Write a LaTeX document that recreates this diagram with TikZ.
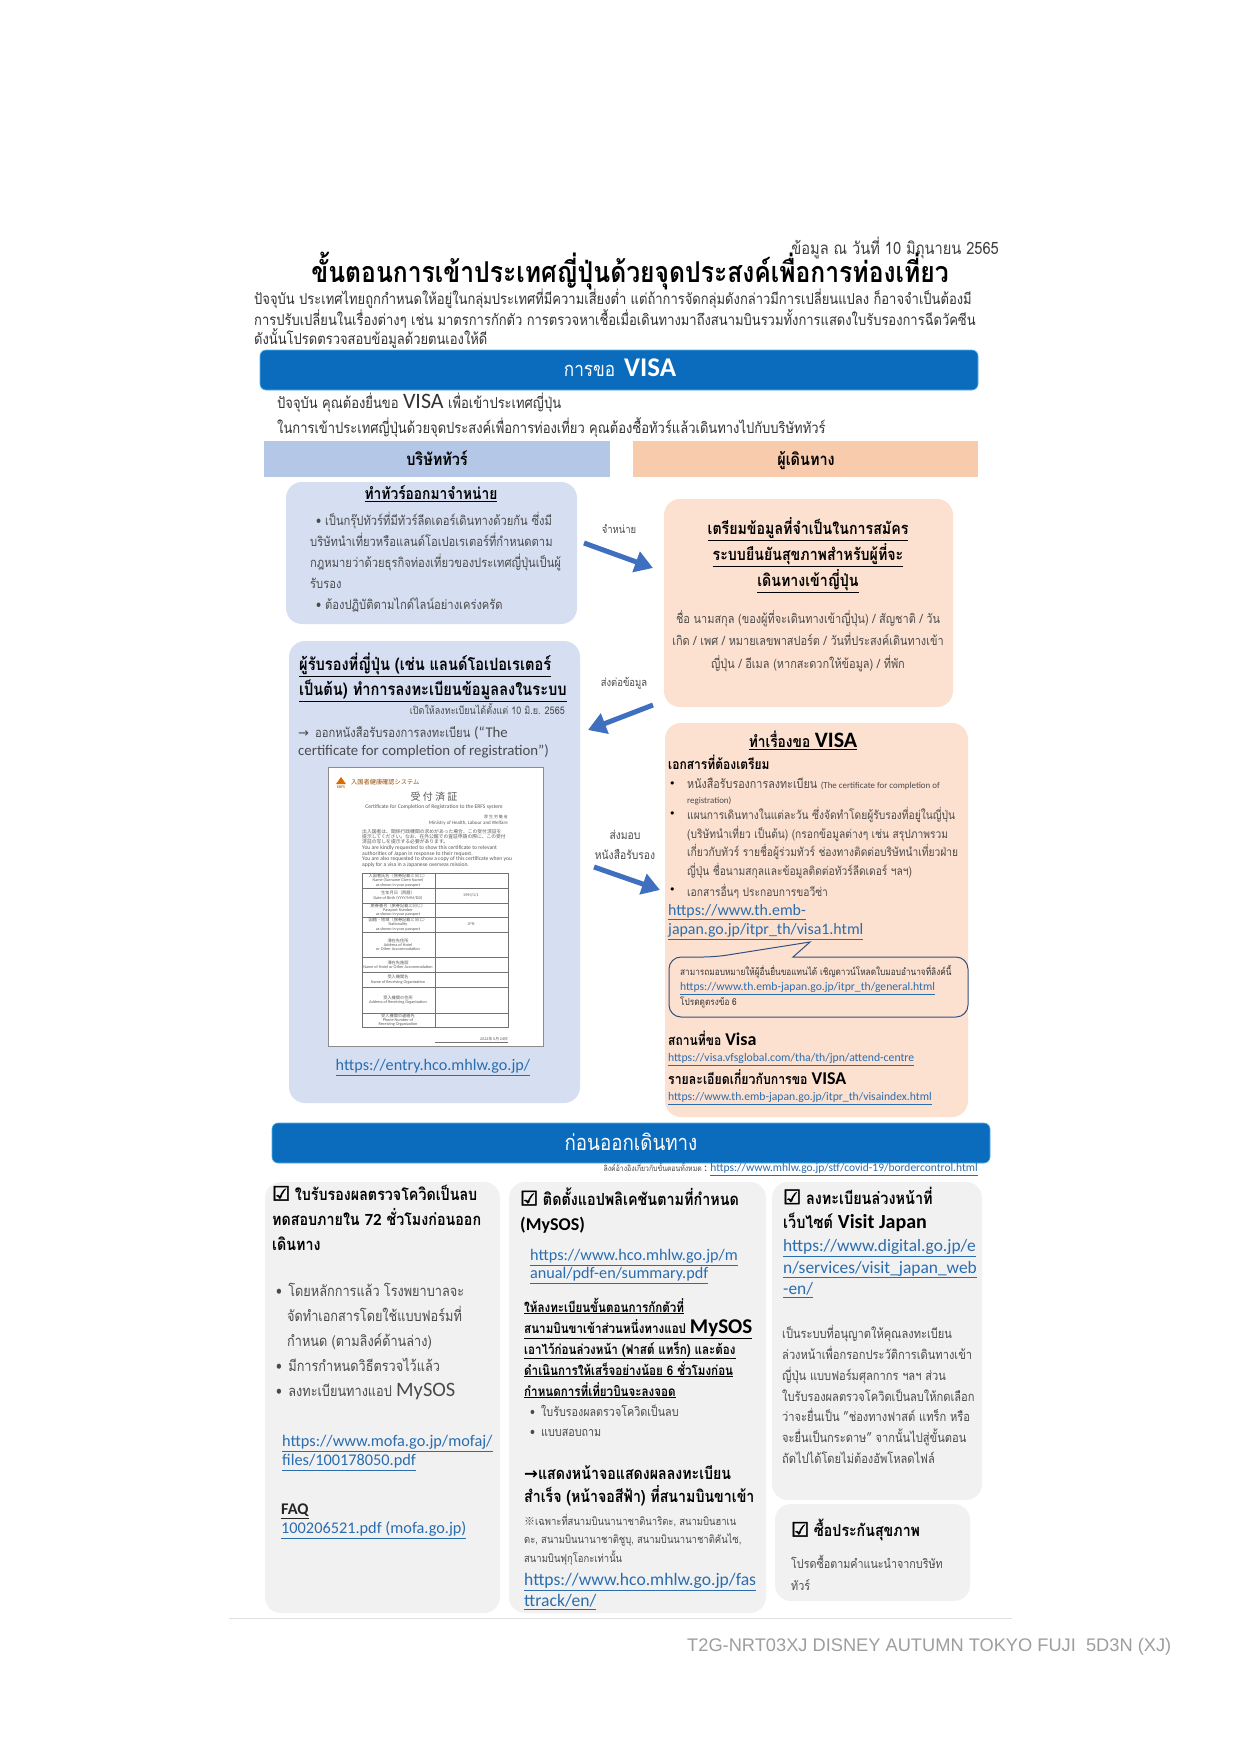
\documentclass[tikz,border=0pt]{standalone}
\usepackage{fontspec}
\setmainfont[Script=Thai,FakeStretch=0.86]{Loma}
\newfontfamily\latfont{Carlito}
\newfontfamily\arlfont{Liberation Sans}
\newfontfamily\chkfont{DejaVu Sans}
\newfontfamily\boxfont[FakeBold=2.5,BoldFont={DejaVu Sans},BoldFeatures={FakeBold=2.5}]{DejaVu Sans}
\newfontfamily\jpfont{Noto Sans CJK JP}
\newcommand{\txtsz}[2]{\fontsize{#1}{#2}\selectfont}
\newcommand{\lat}[1]{{\latfont #1}}
\definecolor{barblue}{HTML}{0B6CBE}
\definecolor{barline}{HTML}{4FB3E8}
\definecolor{headblue}{HTML}{B4C7E7}
\definecolor{headpeach}{HTML}{F8CBAD}
\definecolor{boxblue}{HTML}{D6DFF2}
\definecolor{boxpeach}{HTML}{FCE1D1}
\definecolor{boxgrey}{HTML}{F1F1F2}
\definecolor{linkblue}{HTML}{2A6DAE}
\definecolor{arrowblue}{HTML}{3F6FBF}
\definecolor{calloutline}{HTML}{34507F}
\definecolor{inkgrey}{HTML}{4A4A4A}
\newcommand{\lnk}[1]{\textcolor{linkblue}{\underline{\latfont #1}}}
\newcommand{\arr}{{\chkfont\char"2192}}
\newcommand{\cjp}[1]{{\jpfont #1}}
\newcommand{\tick}[1]{{\boxfont\txtsz{#1}{20}\char"2611}}
\usetikzlibrary{arrows.meta}
\tikzset{
  panel/.style = {rounded corners=16pt, draw=none},
  panel_b/.style = {panel, fill=boxblue},% left column
  panel_p/.style = {panel, fill=boxpeach},% right column
  panel_g/.style = {panel, fill=boxgrey},% before departure
  bar/.style = {rounded corners=6pt, fill=barblue, draw=barline, line width=0.6pt},
  head_b/.style = {fill=headblue, draw=none},
  head_p/.style = {fill=headpeach, draw=none},
  txt/.style = {anchor=west, align=left, inner sep=0pt, text=inkgrey},
  txt_c/.style = {anchor=center, align=center, inner sep=0pt, text=inkgrey},
  txt_k/.style = {txt, text=black, font=\bfseries},
  blockarrow/.style = {-{Triangle[length=18pt,width=21pt]}, line width=5pt, arrowblue},
  cert/.style = {anchor=center, align=center, inner sep=0pt, text=black!65},
  cert_row/.style = {cert, font=\latfont\txtsz{4.2}{4.2}},
  cert_val/.style = {cert, font=\jpfont\txtsz{3.8}{4.6}},
}
\begin{document}
\begin{tikzpicture}[x=1pt,y=-1pt]
\useasboundingbox (0,0) rectangle (1241,1755);
\fill[white] (0,0) rectangle (1241,1755);
% top text
\node[txt, anchor=east, text=black!75, font=\txtsz{17}{18}] (date) at (999,248)
  {ข้อมูล ณ วันที่ 10 มิถุนายน 2565};
\node[txt_k, anchor=center, font=\bfseries\txtsz{28.7}{30}] (title) at (630,271)
  {ขั้นตอนการเข้าประเทศญี่ปุ่นด้วยจุดประสงค์เพื่อการท่องเที่ยว};
\node[txt, text=black!80, font=\txtsz{15.1}{19}] (intro) at (254,319)
  {ปัจจุบัน ประเทศไทยถูกกำหนดให้อยู่ในกลุ่มประเทศที่มีความเสี่ยงต่ำ แต่ถ้าการจัดกลุ่มดังกล่าวมีการเปลี่ยนแปลง ก็อาจจำเป็นต้องมี\\
  การปรับเปลี่ยนในเรื่องต่างๆ เช่น มาตรการกักตัว การตรวจหาเชื้อเมื่อเดินทางมาถึงสนามบินรวมทั้งการแสดงใบรับรองการฉีดวัคซีน\\
  ดังนั้นโปรดตรวจสอบข้อมูลด้วยตนเองให้ดี};
% visa bar
\draw[bar] (260,350) rectangle (978,390);
\node[txt_c, text=white, font=\txtsz{20}{24}] (visabar) at (620,368)
  {การขอ\hspace{-3pt} \lat{\bfseries\txtsz{27}{24} VISA}};
\node[txt, text=black!80, font=\txtsz{15.1}{24}] (visa_a) at (277,403)
  {ปัจจุบัน คุณต้องยื่นขอ \lat{\txtsz{22}{24}VISA} เพื่อเข้าประเทศญี่ปุ่น};
\node[txt, text=black!80, font=\txtsz{15.1}{24}] (visa_b) at (277,427)
  {ในการเข้าประเทศญี่ปุ่นด้วยจุดประสงค์เพื่อการท่องเที่ยว คุณต้องซื้อทัวร์แล้วเดินทางไปกับบริษัททัวร์};
\fill[head_b] (264,441) rectangle (610,477);
\fill[head_p] (633,441) rectangle (978,477);
\node[txt_c, text=black, font=\bfseries\txtsz{16.8}{18}] (head_tour) at (437,458) {บริษัททัวร์};
\node[txt_c, text=black, font=\bfseries\txtsz{16.8}{18}] (head_trav) at (806,461) {ผู้เดินทาง};
% left column
\fill[panel_b] (286,482) rectangle (577,624);
\node[txt_c, text=black, font=\bfseries\txtsz{16}{20}] (sale_h) at (431,494) {\underline{ทำทัวร์ออกมาจำหน่าย}};
\node[txt, font=\txtsz{13}{21}] (sale_t) at (310,562)
  {\hspace{6pt}• เป็นกรุ๊ปทัวร์ที่มีทัวร์ลีดเดอร์เดินทางด้วยกัน ซึ่งมี\\
  บริษัทนำเที่ยวหรือแลนด์โอเปอเรเตอร์ที่กำหนดตาม\\
  กฎหมายว่าด้วยธุรกิจท่องเที่ยวของประเทศญี่ปุ่นเป็นผู้\\
  รับรอง\\
  \hspace{6pt}• ต้องปฏิบัติตามไกด์ไลน์อย่างเคร่งครัด};
\fill[panel_b] (289,641) rectangle (580,1103);
\node[txt_k, font=\bfseries\txtsz{17}{25}] (reg_h) at (299,677)
  {\underline{ผู้รับรองที่ญี่ปุ่น (เช่น แลนด์โอเปอเรเตอร์}\\
  \underline{เป็นต้น) ทำการลงทะเบียนข้อมูลลงในระบบ}};
\node[txt, anchor=east, font=\txtsz{10.5}{14}] (reg_d) at (565,709) {เปิดให้ลงทะเบียนได้ตั้งแต่ 10 มิ.ย. 2565};
\node[txt, font=\txtsz{13}{18}] (reg_t) at (298,742)
  {\arr\hspace{6pt}ออกหนังสือรับรองการลงทะเบียน \lat{\txtsz{14.8}{18}(“The}\\
  \lat{\txtsz{14.8}{18}certificate for completion of registration”)}};
% certificate sheet
\draw[fill=white, draw=black!45, line width=0.7pt] (328,767) rectangle (543,1046);
\draw[black!55, line width=0.4pt] (362,873) rectangle (508,1027) (435,873) -- (435,1027)
  (362,888) -- (508,888) (362,903) -- (508,903) (362,917) -- (508,917) (362,932) -- (508,932)
  (362,957) -- (508,957) (362,972) -- (508,972) (362,987) -- (508,987) (362,1013) -- (508,1013);
\draw[black!55, line width=0.3pt] (435,1042) -- (508,1042);
\fill[orange!85!black] (336,784) -- (341,777) -- (346,784) -- cycle;
\node[cert, text=orange!80!black, font=\latfont\bfseries\txtsz{4}{5}] (cert_logo) at (341,787) {ERFS};
\node[cert, anchor=west, text=orange!60!black, font=\jpfont\txtsz{6.2}{8}] (cert_sys) at (351,782) {入国者健康確認システム};
\node[cert, font=\jpfont\txtsz{10}{10}] (cert_h) at (434,797) {受 付 済 証};
\node[cert, font=\latfont\txtsz{5.6}{6}] (cert_en) at (434,807) {Certificate for Completion of Registration to the ERFS system};
\node[cert, anchor=east, font=\jpfont\txtsz{4}{5}] (cert_mhlw) at (508,817) {厚 生 労 働 省};
\node[cert, anchor=east, font=\latfont\txtsz{5}{5}] (cert_min) at (508,823) {Ministry of Health, Labour and Welfare};
\node[cert, anchor=west, align=left, font=\jpfont\txtsz{4.8}{4.8}] (cert_jp) at (362,836.5)
  {出入国者は、関係行政機関の求めがあった場合、この受付済証を\\
  提示してください。なお、在外公館での査証申請の際に、この受付\\
  済証の写しを提示する必要があります。};
\node[cert, anchor=west, align=left, font=\latfont\txtsz{5.6}{4.5}] (cert_req) at (362,856.5)
  {You are kindly requested to show this certificate to relevant\\
  authorities of Japan in response to their request.\\
  You are also requested to show a copy of this certificate when you\\
  apply for a visa in a Japanese overseas mission.};
\node[cert_row] (cert_r1) at (398,880.5) {\cjp{入国者氏名（旅券記載と同じ）}\\Name (Surname Given Name)\\as shown in your passport};
\node[cert_row] (cert_r2) at (398,895.5) {\cjp{生年月日（西暦）}\\Date of Birth (YYYY/MM/DD)};
\node[cert_row] (cert_r3) at (398,910) {\cjp{旅券番号（旅券記載と同じ）}\\Passport Number\\as shown in your passport};
\node[cert_row] (cert_r4) at (398,924.5) {\cjp{国籍・地域（旅券記載と同じ）}\\Nationality\\as shown in your passport};
\node[cert_row] (cert_r5) at (398,944.5) {\cjp{滞在先住所}\\Address of Hotel\\or Other Accommodation};
\node[cert_row] (cert_r6) at (398,964.5) {\cjp{滞在先施設}\\Name of Hotel or Other Accommodation};
\node[cert_row] (cert_r7) at (398,979.5) {\cjp{受入機関名}\\Name of Receiving Organization};
\node[cert_row] (cert_r8) at (398,1000) {\cjp{受入機関の住所}\\Address of Receiving Organization};
\node[cert_row] (cert_r9) at (398,1020) {\cjp{受入機関の連絡先}\\Phone Number of\\Receiving Organization};
\node[cert_val] (cert_v2) at (471,895.5) {1990/1/1};
\node[cert_val] (cert_v4) at (471,924.5) {JPN};
\node[cert_val] (cert_d) at (494,1039) {2022年 6月 24日};
\node[txt_c, font=\txtsz{16.2}{20}] (reg_l) at (433,1067.5) {\lnk{https://entry.hco.mhlw.go.jp/}};
% right column
\fill[panel_p] (664,499) rectangle (953,707);
\node[txt_c, text=black, font=\bfseries\txtsz{16.5}{26}] (prep_h) at (808,555)
  {\underline{เตรียมข้อมูลที่จำเป็นในการสมัคร}\\
  \underline{ระบบยืนยันสุขภาพสำหรับผู้ที่จะ}\\
  \underline{เดินทางเข้าญี่ปุ่น}};
\node[txt_c, font=\txtsz{12.7}{22.5}] (prep_t) at (808,641)
  {ชื่อ นามสกุล (ของผู้ที่จะเดินทางเข้าญี่ปุ่น) / สัญชาติ / วัน\\
  เกิด / เพศ / หมายเลขพาสปอร์ต / วันที่ประสงค์เดินทางเข้า\\
  ญี่ปุ่น / อีเมล (หากสะดวกให้ข้อมูล) / ที่พัก};
\fill[panel_p] (665,723) rectangle (968,1117);
\node[txt_c, text=black, font=\bfseries\txtsz{16}{20}] (doc_h) at (803,740)
  {\underline{ทำเรื่องขอ \lat{\txtsz{22}{20}VISA}}};
\node[txt_k, font=\bfseries\txtsz{14}{16}] (doc_a) at (668,762.5) {เอกสารที่ต้องเตรียม};
\node[txt, text=black, font=\chkfont\txtsz{11}{12}] (doc_b1) at (669,785) {•};
\node[txt, font=\txtsz{12.5}{15}] (doc_t1) at (687,791.5)
  {หนังสือรับรองการลงทะเบียน \lat{\txtsz{8.9}{15}(The certificate for completion of}\\
  \lat{\txtsz{8.9}{15}registration)}};
\node[txt, text=black, font=\chkfont\txtsz{11}{12}] (doc_b2) at (669,815) {•};
\node[txt, font=\txtsz{11.9}{18.8}] (doc_t2) at (687,843)
  {แผนการเดินทางในแต่ละวัน ซึ่งจัดทำโดยผู้รับรองที่อยู่ในญี่ปุ่น\\
  (บริษัทนำเที่ยว เป็นต้น) (กรอกข้อมูลต่างๆ เช่น สรุปภาพรวม\\
  เกี่ยวกับทัวร์ รายชื่อผู้ร่วมทัวร์ ช่องทางติดต่อบริษัทนำเที่ยวฝ่าย\\
  ญี่ปุ่น ชื่อนามสกุลและข้อมูลติดต่อทัวร์ลีดเดอร์ ฯลฯ)};
\node[txt, text=black, font=\chkfont\txtsz{11}{12}] (doc_b3) at (669,891) {•};
\node[txt, font=\txtsz{11.9}{16}] (doc_t3) at (687,891) {เอกสารอื่นๆ ประกอบการขอวีซ่า};
\node[txt, font=\txtsz{15.9}{19.5}] (doc_l) at (668,922)
  {\lnk{https://www.th.emb-}\\ \lnk{japan.go.jp/itpr\_th/visa1.html}};
\draw[calloutline, line width=1pt, rounded corners=12pt] (793,957) -- (968,957) -- (968,1017)
  -- (669,1017) -- (669,957) -- (715,957) [sharp corners] -- (810,942) -- cycle;
\node[txt, text=black!80, font=\txtsz{9.6}{15}] (call_t) at (680,987)
  {สามารถมอบหมายให้ผู้อื่นยื่นขอแทนได้ เชิญดาวน์โหลดใบมอบอำนาจที่ลิงค์นี้\\
  \lnk{\txtsz{11.65}{15}https://www.th.emb-japan.go.jp/itpr\_th/general.html}\\
  โปรดดูตรงข้อ 6};
\node[txt_k, font=\bfseries\txtsz{14}{16}] (place_h) at (668,1038.5) {สถานที่ขอ \lat{\txtsz{18}{16}Visa}};
\node[txt, font=\txtsz{12}{14}] (place_l) at (668,1059.5) {\lnk{\txtsz{11.7}{14}https://visa.vfsglobal.com/tha/th/jpn/attend-centre}};
\node[txt_k, font=\bfseries\txtsz{14.3}{16}] (info_h) at (668,1077) {รายละเอียดเกี่ยวกับการขอ \lat{\txtsz{18}{16}VISA}};
\node[txt, font=\txtsz{12}{14}] (info_l) at (668,1098.5) {\lnk{\txtsz{11.65}{14}https://www.th.emb-japan.go.jp/itpr\_th/visaindex.html}};
% arrows
\node[txt_c, font=\txtsz{11}{14}] (lab_sell) at (619,529) {จำหน่าย};
\coordinate (sell_a) at (584,543);
\coordinate (sell_b) at (653,568);
\draw[blockarrow] (sell_a) -- (sell_b);
\node[txt_c, font=\txtsz{11}{14}] (lab_send) at (624,683) {ส่งต่อข้อมูล};
\coordinate (send_a) at (653,705);
\coordinate (send_b) at (588,730);
\draw[blockarrow] (send_a) -- (send_b);
\node[txt_c, font=\txtsz{12}{20}] (lab_give) at (625,845) {ส่งมอบ\\หนังสือรับรอง};
\coordinate (give_a) at (594,867);
\coordinate (give_b) at (660,890);
\draw[blockarrow] (give_a) -- (give_b);
% before departure
\draw[bar] (272,1123) rectangle (990,1163);
\node[txt_c, text=white, font=\txtsz{21.8}{24}] (departbar) at (631,1142) {ก่อนออกเดินทาง};
\node[txt, anchor=east, font=\txtsz{8}{10}] (ref_l) at (978,1169.5)
  {ลิงค์อ้างอิงเกี่ยวกับขั้นตอนทั้งหมด \lat{\txtsz{12}{10}:} \lnk{\txtsz{11.5}{10}https://www.mhlw.go.jp/stf/covid-19/bordercontrol.html}};
\fill[panel_g] (265,1182) rectangle (500,1613);
\fill[panel_g] (509,1182) rectangle (766,1613);
\fill[panel_g] (772,1182) rectangle (982,1500);
\fill[panel_g] (775,1504) rectangle (970,1601);
% first panel
\node[txt_k, font=\bfseries\txtsz{16.6}{25}] (covid_h) at (272,1218)
  {\tick{20} ใบรับรองผลตรวจโควิดเป็นลบ\\
  ทดสอบภายใน \lat{\txtsz{17}{25}72} ชั่วโมงก่อนออก\\
  เดินทาง};
\node[txt, font=\txtsz{14.8}{24.8}] (covid_t) at (276,1341.5)
  {• \hspace{2pt}โดยหลักการแล้ว โรงพยาบาลจะ\\
  \hspace{11pt}จัดทำเอกสารโดยใช้แบบฟอร์มที่\\
  \hspace{11pt}กำหนด (ตามลิงค์ด้านล่าง)\\
  • \hspace{2pt}มีการกำหนดวิธีตรวจไว้แล้ว\\
  • \hspace{2pt}ลงทะเบียนทางแอป \lat{\txtsz{20.5}{24.8}MySOS}};
\node[txt, font=\txtsz{16.3}{19}] (covid_l) at (282,1453)
  {\lnk{https://www.mofa.go.jp/mofaj/}\\ \lnk{files/100178050.pdf}};
\node[txt, font=\txtsz{16.3}{19}] (faq) at (281,1521.5)
  {\textcolor{black!85}{\underline{\latfont\bfseries FAQ}}\\ \lnk{100206521.pdf (mofa.go.jp)}};
% second panel
\node[txt_k, font=\bfseries\txtsz{16.7}{25}] (app_h) at (520,1210.5)
  {\tick{20} ติดตั้งแอปพลิเคชันตามที่กำหนด\\
  \lat{\txtsz{18}{25}(MySOS)}};
\node[txt, font=\txtsz{16.2}{18}] (app_l) at (530,1266.5)
  {\lnk{https://www.hco.mhlw.go.jp/m}\\ \lnk{anual/pdf-en/summary.pdf}};
\node[txt_k, font=\bfseries\txtsz{13.5}{21}] (app_t) at (524,1348)
  {\underline{ให้ลงทะเบียนขั้นตอนการกักตัวที่}\\
  \underline{สนามบินขาเข้าส่วนหนึ่งทางแอป \lat{\txtsz{21}{21}MySOS}}\\
  \underline{เอาไว้ก่อนล่วงหน้า (ฟาสต์ แทร็ก) และต้อง}\\
  \underline{ดำเนินการให้เสร็จอย่างน้อย 6 ชั่วโมงก่อน}\\
  \underline{กำหนดการที่เที่ยวบินจะลงจอด}};
\node[txt, font=\txtsz{12.5}{20}] (app_b) at (530,1421)
  {•\hspace{6pt}ใบรับรองผลตรวจโควิดเป็นลบ\\
  •\hspace{6pt}แบบสอบถาม};
\node[txt_k, font=\bfseries\txtsz{16.5}{23}] (app_s) at (524,1485.5)
  {\arr แสดงหน้าจอแสดงผลลงทะเบียน\\
  สำเร็จ (หน้าจอสีฟ้า) ที่สนามบินขาเข้า};
\node[txt, font=\txtsz{11}{18.5}] (app_n) at (524,1539.5)
  {\cjp{※}เฉพาะที่สนามบินนานาชาตินาริตะ, สนามบินฮาเน\\
  ดะ, สนามบินนานาชาติชูบุ, สนามบินนานาชาติคันไซ,\\
  สนามบินฟุกุโอกะเท่านั้น};
\node[txt, font=\txtsz{17.6}{21}] (app_f) at (524,1591.5)
  {\lnk{https://www.hco.mhlw.go.jp/fas}\\ \lnk{ttrack/en/}};
% third panel
\node[txt_k, font=\bfseries\txtsz{16.8}{24}] (vj_h) at (783,1209)
  {\tick{20} ลงทะเบียนล่วงหน้าที่\\
  เว็บไซต์ \lat{\txtsz{20}{24}Visit Japan}};
\node[txt, font=\txtsz{17.4}{21.5}] (vj_l) at (783,1268.5)
  {\lnk{https://www.digital.go.jp/e}\\ \lnk{n/services/visit\_japan\_web}\\ \lnk{-en/}};
\node[txt, font=\txtsz{12.9}{20.8}] (vj_t) at (782,1394.5)
  {เป็นระบบที่อนุญาตให้คุณลงทะเบียน\\
  ล่วงหน้าเพื่อกรอกประวัติการเดินทางเข้า\\
  ญี่ปุ่น แบบฟอร์มศุลกากร ฯลฯ ส่วน\\
  ใบรับรองผลตรวจโควิดเป็นลบให้กดเลือก\\
  ว่าจะยื่นเป็น "ช่องทางฟาสต์ แทร็ก หรือ\\
  จะยื่นเป็นกระดาษ" จากนั้นไปสู่ขั้นตอน\\
  ถัดไปได้โดยไม่ต้องอัพโหลดไฟล์};
% fourth panel
\node[txt_k, font=\bfseries\txtsz{16.5}{20}] (ins_h) at (791,1530)
  {\tick{20} ซื้อประกันสุขภาพ};
\node[txt, font=\txtsz{12.5}{22}] (ins_t) at (791,1573)
  {โปรดซื้อตามคำแนะนำจากบริษัท\\ ทัวร์};
% footer
\coordinate (rule_a) at (229,1618);
\coordinate (rule_b) at (1012,1618);
\draw[black!12, line width=1pt] (rule_a) -- (rule_b);
\node[txt, anchor=west, text=black!38, font=\arlfont\txtsz{18.25}{20}] (footer) at (687,1647)
  {T2G-NRT03XJ DISNEY AUTUMN TOKYO FUJI \ 5D3N (XJ)};
\end{tikzpicture}
\end{document}
